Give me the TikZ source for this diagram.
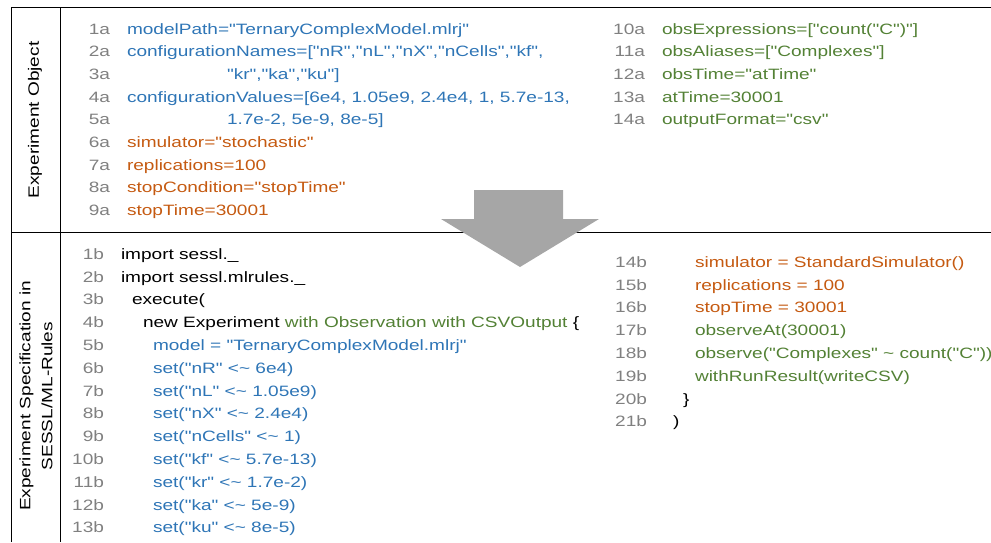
\documentclass[tikz,border=0pt]{standalone}
\usepackage{fontspec}
\setmainfont{Liberation Sans}[FakeStretch=1.27,Ligatures=TeXOff]
\definecolor{codeblue}{RGB}{46,117,182}
\definecolor{codeorange}{RGB}{197,90,17}
\definecolor{codegreen}{RGB}{83,129,53}
\definecolor{numgray}{RGB}{128,128,128}
\definecolor{arrowgray}{RGB}{166,166,166}
% one listing line: name, baseline y, number x (right edge), number, code x, code
\newcommand\lstline[6]{%
  \node[lnum] (#1n) at (#3,#2) {#4};
  \node[code] (#1c) at (#5,#2) {#6};}
\begin{document}
\begin{tikzpicture}[x=1pt,y=-1pt,
  every node/.style={inner sep=0pt,outer sep=0pt,font=\fontsize{15}{22}\selectfont},
  lnum/.style={anchor=base east,text=numgray},
  code/.style={anchor=base west},
  rule/.style={draw=black,line width=0.8pt},
  label/.style={rotate=90,align=center,anchor=center}]
\useasboundingbox (0,0) rectangle (991,542);

% table frame
\draw[rule] (991,7) -- (11,7) -- (11,542);
\draw[rule] (60,7) -- (60,542);
\draw[rule] (11,232) -- (991,232);

% row labels
\node[label] (lblobj) at (35,120) {Experiment Object};
\node[label] (lblspec) at (36,396) {Experiment Specification in\\SESSL/ML-Rules};

% experiment object, left column
\lstline{a1}{34}{110}{1a}{127}{\color{codeblue}modelPath="TernaryComplexModel.mlrj"}
\lstline{a2}{56.7}{110}{2a}{127}{\color{codeblue}configurationNames=["nR","nL","nX","nCells","kf",}
\lstline{a3}{79.4}{110}{3a}{227}{\color{codeblue}"kr","ka","ku"]}
\lstline{a4}{102.1}{110}{4a}{127}{\color{codeblue}configurationValues=[6e4, 1.05e9, 2.4e4, 1, 5.7e-13,}
\lstline{a5}{124.8}{110}{5a}{227}{\color{codeblue}1.7e-2, 5e-9, 8e-5]}
\lstline{a6}{147.5}{110}{6a}{127}{\color{codeorange}simulator="stochastic"}
\lstline{a7}{170.2}{110}{7a}{127}{\color{codeorange}replications=100}
\lstline{a8}{192.9}{110}{8a}{127}{\color{codeorange}stopCondition="stopTime"}
\lstline{a9}{215.6}{110}{9a}{127}{\color{codeorange}stopTime=30001}

% experiment object, right column
\lstline{a10}{34}{645}{10a}{662}{\color{codegreen}obsExpressions=["count("C")"]}
\lstline{a11}{56.7}{645}{11a}{662}{\color{codegreen}obsAliases=["Complexes"]}
\lstline{a12}{79.4}{645}{12a}{662}{\color{codegreen}obsTime="atTime"}
\lstline{a13}{102.1}{645}{13a}{662}{\color{codegreen}atTime=30001}
\lstline{a14}{124.8}{645}{14a}{662}{\color{codegreen}outputFormat="csv"}

% translation arrow
\fill[arrowgray] (474,190) -- (563,190) -- (563,219) -- (599,219) -- (520,267)
  -- (441,219) -- (474,219) -- cycle;

% SESSL specification, left column
\lstline{b1}{259.3}{104}{1b}{121}{import sessl.\_}
\lstline{b2}{282.1}{104}{2b}{121}{import sessl.mlrules.\_}
\lstline{b3}{304.9}{104}{3b}{132}{execute(}
\lstline{b4}{327.7}{104}{4b}{143}{new Experiment {\color{codegreen}with Observation with CSVOutput} \{}
\lstline{b5}{350.5}{104}{5b}{153}{\color{codeblue}model = "TernaryComplexModel.mlrj"}
\lstline{b6}{373.3}{104}{6b}{153}{\color{codeblue}set("nR" <\textasciitilde{} 6e4)}
\lstline{b7}{396.1}{104}{7b}{153}{\color{codeblue}set("nL" <\textasciitilde{} 1.05e9)}
\lstline{b8}{418.9}{104}{8b}{153}{\color{codeblue}set("nX" <\textasciitilde{} 2.4e4)}
\lstline{b9}{441.7}{104}{9b}{153}{\color{codeblue}set("nCells" <\textasciitilde{} 1)}
\lstline{b10}{464.5}{104}{10b}{153}{\color{codeblue}set("kf" <\textasciitilde{} 5.7e-13)}
\lstline{b11}{487.3}{104}{11b}{153}{\color{codeblue}set("kr" <\textasciitilde{} 1.7e-2)}
\lstline{b12}{510.1}{104}{12b}{153}{\color{codeblue}set("ka" <\textasciitilde{} 5e-9)}
\lstline{b13}{532.9}{104}{13b}{153}{\color{codeblue}set("ku" <\textasciitilde{} 8e-5)}

% SESSL specification, right column
\lstline{b14}{267.3}{647}{14b}{695}{\color{codeorange}simulator = StandardSimulator()}
\lstline{b15}{290.1}{647}{15b}{695}{\color{codeorange}replications = 100}
\lstline{b16}{312.9}{647}{16b}{695}{\color{codeorange}stopTime = 30001}
\lstline{b17}{335.7}{647}{17b}{695}{\color{codegreen}observeAt(30001)}
\lstline{b18}{358.5}{647}{18b}{695}{\color{codegreen}observe("Complexes" \textasciitilde{} count("C"))}
\lstline{b19}{381.3}{647}{19b}{695}{\color{codegreen}withRunResult(writeCSV)}
\lstline{b20}{404.1}{647}{20b}{683}{\}}
\lstline{b21}{426.9}{647}{21b}{673}{)}
\end{tikzpicture}
\end{document}
